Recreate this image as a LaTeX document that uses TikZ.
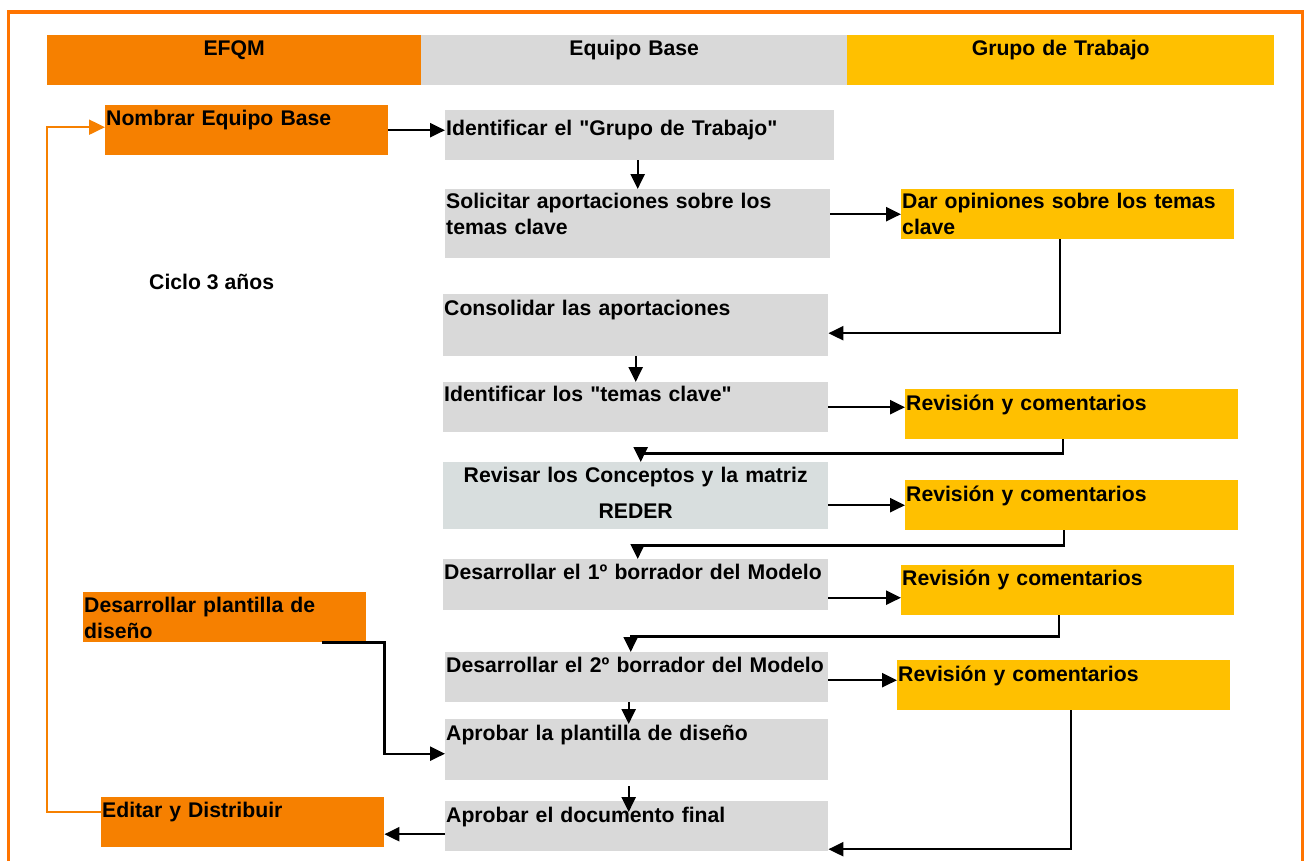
\documentclass[tikz,border=0pt]{standalone}
\usepackage{fontspec}
\setmainfont{Liberation Sans}
\usepackage{tikz}
\usetikzlibrary{arrows.meta}

\definecolor{efqmorange}{HTML}{F68000}
\definecolor{basegray}{HTML}{D9D9D9}
\definecolor{grupoyellow}{HTML}{FFC000}
\definecolor{reviewgray}{HTML}{D8DEDE}
\definecolor{frameorange}{HTML}{FF7400}

\begin{document}
\begin{tikzpicture}[x=1pt,y=-1pt]
\tikzstyle{every node}+=[inner xsep=1pt, inner ysep=0pt, anchor=north west, font=\fontsize{21.2}{26}\selectfont\bfseries, text height=20pt, text depth=30pt]
\tikzstyle{efqm}=[fill=efqmorange, text width=281pt, align=left]
\tikzstyle{base}=[fill=basegray, text width=383pt, align=left]
\tikzstyle{grupo}=[fill=grupoyellow, text width=331pt, align=left]
\tikzstyle{head}=[align=center]
\tikzstyle{flow}=[draw=black, line width=2.4pt, -{Triangle[length=15pt,width=14pt]}]
\tikzstyle{back}=[draw=efqmorange, line width=2pt, -{Triangle[length=16pt,width=15pt]}]
\useasboundingbox (0,0) rectangle (1305,860);
\draw [frameorange, line width=3.5pt] (8.5,12) rectangle (1302.5,880);
% column heads
\node [head, fill=efqmorange, text width=372pt] (hefqm) at (47,35) {EFQM};
\node [head, fill=basegray, text width=424pt] (hbase) at (421,35) {Equipo Base};
\node [head, fill=grupoyellow, text width=425pt] (hgrupo) at (847,35) {Grupo de Trabajo};
% steps
\node [efqm] (nombrar) at (105,105) {Nombrar Equipo Base};
\node [base, text width=387pt, text height=25pt, text depth=25pt] (idgrupo) at (445,110) {Identificar el \textquotedbl Grupo de Trabajo\textquotedbl};
\node [base, text height=19pt, text depth=50pt] (solicitar) at (445,189) {Solicitar aportaciones sobre los\\temas clave};
\node [grupo, text height=19pt, text depth=31pt] (dar) at (901,189) {Dar opiniones sobre los temas\\clave};
\node [anchor=base west] (ciclo) at (148,289) {Ciclo 3 años};
\node [base, text height=21pt, text depth=41pt] (consolidar) at (443,294) {Consolidar las aportaciones};
\node [base, text height=19pt, text depth=31pt] (idtemas) at (443,382) {Identificar los \textquotedbl temas clave\textquotedbl};
\node [grupo, text height=21pt, text depth=29pt] (rev1) at (905,389) {Revisión y comentarios};
\node [base, fill=reviewgray, align=center, font=\fontsize{21.2}{36}\selectfont\bfseries, text depth=47pt] (revisar) at (443,462) {Revisar los Conceptos y la matriz\\REDER};
\node [grupo, text height=21pt, text depth=29pt] (rev2) at (905,480) {Revisión y comentarios};
\node [base, text depth=31pt] (desarr1) at (443,559) {Desarrollar el 1º borrador del Modelo};
\node [grupo] (rev3) at (901,565) {Revisión y comentarios};
\node [efqm] (plantilla) at (83,592) {Desarrollar plantilla de\\diseño};
\node [base, text width=381pt] (desarr2) at (445,652) {Desarrollar el 2º borrador del Modelo};
\node [grupo, text height=21pt, text depth=29pt] (rev4) at (897,660) {Revisión y comentarios};
\node [base, text width=381pt, text height=21pt, text depth=40pt] (aprplant) at (445,719) {Aprobar la plantilla de diseño};
\node [efqm] (editar) at (101,797) {Editar y Distribuir};
\node [base, text width=381pt, text height=21pt, text depth=29pt] (aprfinal) at (445,801) {Aprobar el documento final};
% connectors
\draw [flow] (nombrar.east) -- (nombrar.east -| idgrupo.west);
\draw [flow] (idgrupo.south -| solicitar.north) -- (solicitar.north);
\draw [flow] (dar.west -| solicitar.east) -- (dar.west);
\draw [flow] ([xshift=-8pt]dar.south) |- ([yshift=-8pt]consolidar.east);
\draw [flow] (consolidar.south) -- (idtemas.north);
\draw [flow] (idtemas.east) -- (idtemas.east -| rev1.west);
\draw [flow] ([xshift=-9pt]rev1.south) -- ++(0,14) -| ([xshift=5pt]revisar.north);
\draw [flow] (revisar.east |- rev2.west) -- (rev2.west);
\draw [flow] ([xshift=-8pt]rev2.south) -- ++(0,15) -| ([xshift=2pt]desarr1.north);
\draw [flow] ([yshift=-13pt]desarr1.east) -- ([yshift=-13pt]desarr1.east -| rev3.west);
\draw [flow] ([xshift=-9pt]rev3.south) -- ++(0,21) -| ([xshift=-6pt]desarr2.north);
\draw [flow] ([yshift=-3pt]desarr2.east) -- ([yshift=-3pt]desarr2.east -| rev4.west);
\draw [flow] ([xshift=-8pt]desarr2.south) -- ([xshift=-8pt,yshift=-5pt]aprplant.north);
\draw [flow] ([xshift=-44pt]plantilla.south east) -- ++(62,0) |- ([yshift=-4pt]aprplant.west);
\draw [flow] ([xshift=7pt]rev4.south) |- ([yshift=-23pt]aprfinal.east);
\draw [flow] ([xshift=-8pt,yshift=-6pt]aprplant.south) -- ([xshift=-8pt,yshift=-11pt]aprfinal.north);
\draw [flow] ([yshift=-8pt]aprfinal.west) -- ([yshift=-8pt]aprfinal.west -| editar.east);
% back to the start
\draw [back] ([yshift=10pt]editar.west) -- ++(-54,0) |- ([yshift=3pt]nombrar.west);
\end{tikzpicture}
\end{document}
